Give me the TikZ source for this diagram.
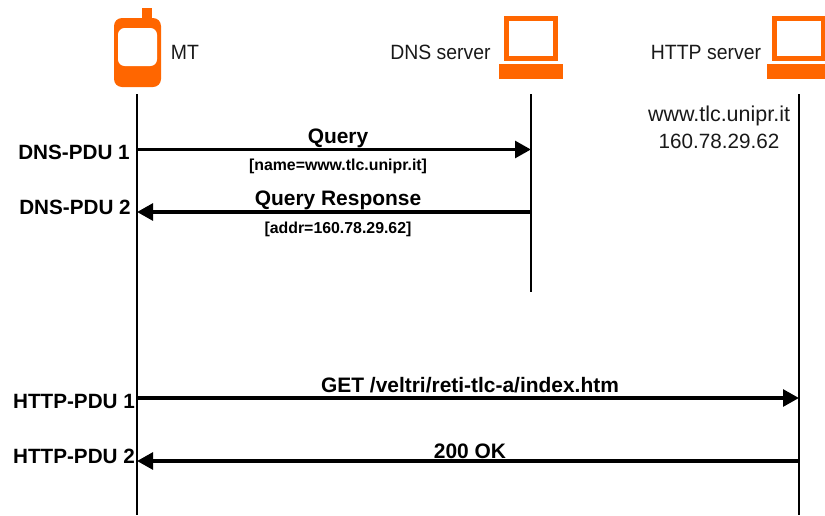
\documentclass[tikz,border=0pt]{standalone}
\usepackage{fontspec}
\setmainfont{Liberation Sans}
\newfontfamily\condfont[FakeStretch=0.94]{Liberation Sans}
\usetikzlibrary{arrows.meta}
\definecolor{iconorange}{RGB}{255,102,0}
\tikzset{x=0.75pt,y=-0.75pt,
    lifeline/.style={line width=1.1pt,black},
    msg/.style={line width=2.8pt,-{Triangle[length=12pt,width=12.5pt]}},
    station/.style={font=\fontsize{15.5}{18}\selectfont\condfont\color{black!90},inner sep=0pt},
    hostinfo/.style={font=\fontsize{15.5}{18}\selectfont\color{black!90},inner sep=0pt,align=center},
    pdu/.style={font=\fontsize{15.5}{18}\selectfont\bfseries,inner sep=0pt},
    msgtop/.style={font=\fontsize{15.7}{18}\selectfont\bfseries,inner sep=0pt},
    msgsub/.style={font=\fontsize{11.9}{14}\selectfont\bfseries,inner sep=0pt},
    }
\begin{document}
\begin{tikzpicture}
\useasboundingbox (0,0) rectangle (825,515);
\clip (0,0) rectangle (825,515);
% mobile terminal
\fill[iconorange] (142,8) rectangle (152,22);
\fill[iconorange,rounded corners=6pt] (114,18) rectangle (161,87);
\fill[white,rounded corners=5pt] (118,28) rectangle (157,66);
% servers
\draw[iconorange,line width=3.6pt] (506.5,18.5) rectangle (555.5,58.5);
\fill[iconorange] (499,64) rectangle (563,79);
\draw[iconorange,line width=3.6pt] (774.5,18.5) rectangle (823.5,58.5);
\fill[iconorange] (767,64) rectangle (831,79);
% stations
\node[station] (mt) at (185,52) {MT};
\node[station] (dns) at (440.5,52) {DNS server};
\node[station] (http) at (706,52) {HTTP server};
\node[hostinfo,font=\fontsize{16.1}{18}\selectfont\color{black!90}] (host) at (719,116) {www.tlc.unipr.it};
\node[hostinfo] (addr) at (719,141) {160.78.29.62};
% lifelines
\coordinate (mttop) at (137,94);
\coordinate (mtend) at (137,515);
\coordinate (dnstop) at (531,94);
\coordinate (dnsend) at (531,292);
\coordinate (httptop) at (799,94);
\coordinate (httpend) at (799,515);
\draw[lifeline] (mttop) -- (mtend);
\draw[lifeline] (dnstop) -- (dnsend);
\draw[lifeline] (httptop) -- (httpend);
% messages
\coordinate (a1) at (137,149.5);
\coordinate (b1) at (531,149.5);
\coordinate (a2) at (137,212);
\coordinate (b2) at (531,212);
\coordinate (a3) at (137,398);
\coordinate (b3) at (799,398);
\coordinate (a4) at (137,461);
\coordinate (b4) at (799,461);
\draw[msg] (a1) -- (b1);
\draw[msg] (b2) -- (a2);
\draw[msg] (a3) -- (b3);
\draw[msg] (b4) -- (a4);
% labels
\node[pdu] (p1) at (74,152) {DNS-PDU 1};
\node[pdu] (p2) at (75,207) {DNS-PDU 2};
\node[pdu] (p3) at (74,401) {HTTP-PDU 1};
\node[pdu] (p4) at (74,456) {HTTP-PDU 2};
\node[msgtop] (q1) at (338,138) {Query};
\node[msgsub] (s1) at (338,166) {[name=www.tlc.unipr.it]};
\node[msgtop] (q2) at (338,200) {Query Response};
\node[msgsub] (s2) at (338,229) {[addr=160.78.29.62]};
\node[msgtop] (q3) at (470,385.5) {GET /veltri/reti-tlc-a/index.htm};
\node[msgtop] (q4) at (470,451) {200 OK};
\end{tikzpicture}
\end{document}
